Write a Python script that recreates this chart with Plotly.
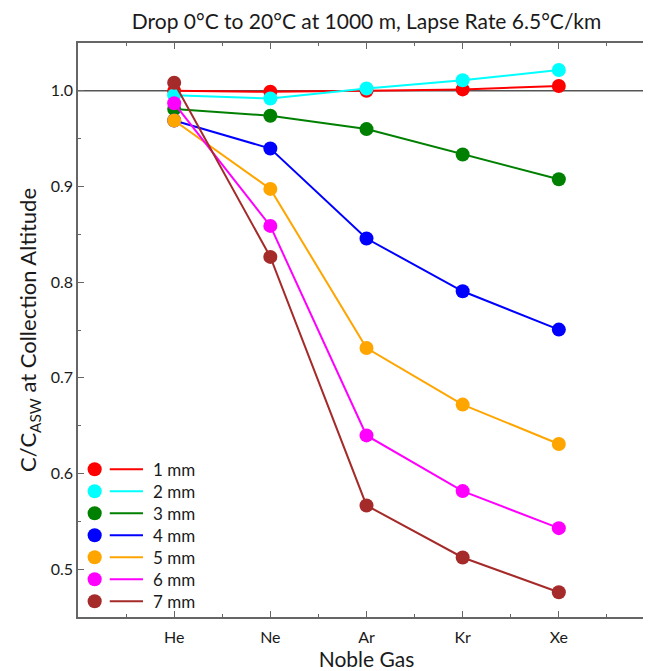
import plotly.graph_objects as go

gases = ["He", "Ne", "Ar", "Kr", "Xe"]
series_names = ["1 mm", "2 mm", "3 mm", "4 mm", "5 mm", "6 mm", "7 mm"]
colors = ["#ff0000", "#00ffff", "#008000", "#0000ff", "#ffa500", "#ff00ff", "#a52a2a"]

v_1mm = [1.000, 0.999, 1.000, 1.0015, 1.005]
v_2mm = [0.9955, 0.992, 1.0025, 1.011, 1.0217]
v_3mm = [0.981, 0.974, 0.960, 0.9335, 0.9076]
v_4mm = [0.969, 0.9397, 0.8456, 0.7905, 0.7504]
v_5mm = [0.969, 0.8975, 0.7312, 0.672, 0.6308]
v_6mm = [0.987, 0.8588, 0.6398, 0.5816, 0.5429]
v_7mm = [1.0084, 0.8264, 0.5666, 0.5122, 0.4759]
values = [v_1mm, v_2mm, v_3mm, v_4mm, v_5mm, v_6mm, v_7mm]

x_idx = list(range(len(gases)))
FONT = "Lato"
TXT = "#1a1a1a"

fig = go.Figure()
for name, col, vals in zip(series_names, colors, values):
    fig.add_trace(go.Scatter(
        x=x_idx, y=vals, mode="lines+markers", name=name,
        line=dict(color=col, width=2),
        marker=dict(color=col, size=14),
        showlegend=False,
    ))

# reference line at 1.0
fig.add_shape(type="line", xref="paper", yref="y", x0=0, x1=1, y0=1.0, y1=1.0,
              line=dict(color="#555555", width=1.5), layer="below")

W, H = 651, 671
# horizontal: observed screen_x = XA + XB * fig_x ; vertical: screen_y = fig_y + 8
XA, XB = 9.3, 0.992
OFFY = 8
ax_l, ax_r = 69.7, 647.5
s_t, s_b = 43, 617
ax_t, ax_b = s_t - OFFY, s_b - OFFY
pw, ph = ax_r - ax_l, ax_b - ax_t

def px(xs):
    return ((xs - XA) / XB - ax_l) / pw

def py(ys):
    return (s_b - ys) / ph

# custom legend (marker, line, text), lower-left
annotations = []
for i, (name, col) in enumerate(zip(series_names, colors)):
    ys = 469.3 + i * 22.0
    yp = py(ys)
    mx = px(95)
    rx, ry = 7.0 / XB, 7.0
    fig.add_shape(type="circle", xref="paper", yref="paper",
                  x0=mx - rx / pw, x1=mx + rx / pw, y0=yp - ry / ph, y1=yp + ry / ph,
                  fillcolor=col, line=dict(color=col, width=0))
    fig.add_shape(type="line", xref="paper", yref="paper",
                  x0=px(110), x1=px(143), y0=yp, y1=yp,
                  line=dict(color=col, width=2))
    annotations.append(dict(xref="paper", yref="paper", x=px(151), y=yp,
                            text=name, showarrow=False, xanchor="left", yanchor="middle",
                            font=dict(family=FONT, size=17, color=TXT)))

axis_common = dict(showline=True, linecolor="#666666", linewidth=1.5, mirror="ticks",
                   ticks="inside", tickcolor="#666666", showgrid=False, zeroline=False,
                   tickfont=dict(family=FONT, size=16, color=TXT))

fig.update_layout(
    width=W, height=H,
    margin=dict(l=ax_l, r=W - ax_r, t=ax_t, b=H - ax_b),
    paper_bgcolor="white", plot_bgcolor="white",
    title=dict(text="Drop 0°C to 20°C at 1000 m, Lapse Rate 6.5°C/km",
               x=((365 - XA) / XB) / W, xanchor="center", y=1 - (22 - OFFY) / H, yanchor="middle",
               font=dict(family=FONT, size=21, color=TXT)),
    xaxis=dict(range=[-1, 5], tickmode="array", tickvals=x_idx, ticktext=gases,
               ticklen=6, tickwidth=1.2, ticklabelstandoff=5,
               minor=dict(tickmode="array", tickvals=[-0.5, 0.5, 1.5, 2.5, 3.5, 4.5],
                          ticks="inside", ticklen=3, tickcolor="#666666"),
               title=dict(text="Noble Gas", font=dict(family=FONT, size=21, color=TXT), standoff=7),
               **axis_common),
    yaxis=dict(range=[0.45, 1.05], tickmode="array", tickvals=[0.5, 0.6, 0.7, 0.8, 0.9, 1.0],
               ticktext=["0.5", "0.6", "0.7", "0.8", "0.9", "1.0"],
               ticklen=6, tickwidth=1.2,
               minor=dict(tickmode="array", tickvals=[0.55, 0.65, 0.75, 0.85, 0.95],
                          ticks="inside", ticklen=3, tickcolor="#666666"),
               title=dict(text="C/C<sub>ASW</sub> at Collection Altitude",
                          font=dict(family=FONT, size=22, color=TXT), standoff=8),
               **axis_common),
    annotations=annotations,
)

fig.write_html("out.html")
